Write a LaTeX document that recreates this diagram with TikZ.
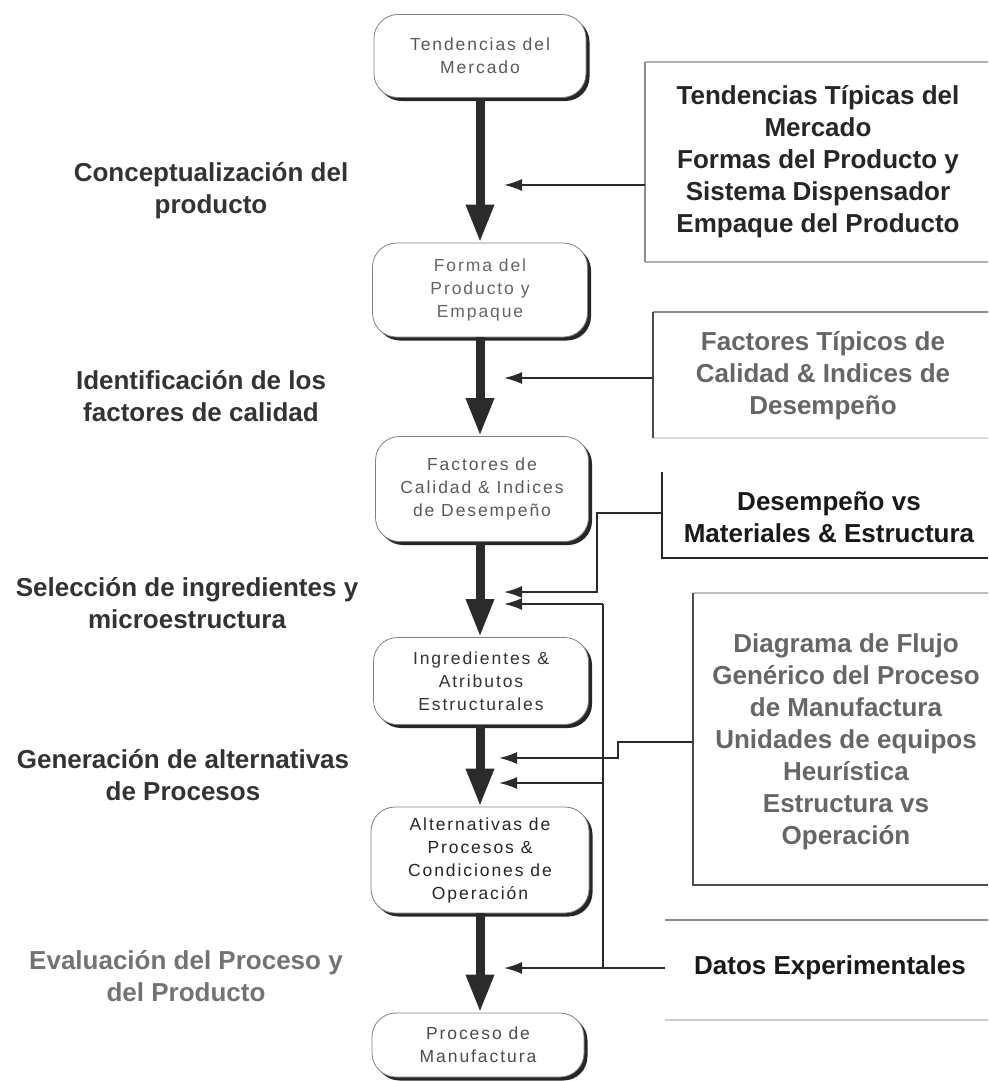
\documentclass[tikz,border=0pt]{standalone}
\usepackage{fontspec}
\setmainfont{Liberation Sans}
\newfontfamily\boxfont[LetterSpace=11]{Liberation Sans}
\usetikzlibrary{arrows.meta,shadows}

\definecolor{ink}{HTML}{2B2B2B}

\begin{document}
\begin{tikzpicture}[x=1pt,y=-1pt,
  flowbox/.style={rectangle, rounded corners=24pt, draw=black!50, line width=0.8pt,
    fill=white, align=center, inner sep=0pt,
    font=\boxfont\fontsize{17.5}{23}\selectfont,
    drop shadow={shadow xshift=3.5pt, shadow yshift=-3.5pt, fill=black!85, opacity=1}},
  stagelabel/.style={align=center, font=\bfseries\fontsize{26}{32}\selectfont, text=black!80},
  paneltext/.style={align=center, font=\bfseries\fontsize{26}{32}\selectfont},
  mainflow/.style={draw=ink, line width=9pt, -{Triangle[length=38pt,width=26pt]}},
  feed/.style={draw=ink, line width=1.8pt, -{Latex[length=18pt,width=12pt]}},
  feedline/.style={draw=ink, line width=1.8pt},
  edgedark/.style={draw=black!70, line width=2pt},
  edgelight/.style={draw=black!30, line width=2pt},
  edgemid/.style={draw=black!45, line width=2pt}]

\useasboundingbox (0,0) rectangle (988,1081);

% ---------- main flow ----------
\node[flowbox, text=black!65, minimum width=212pt, minimum height=83pt] (b1) at (480,56)
  {Tendencias del\\Mercado};
\node[flowbox, text=black!60, minimum width=215pt, minimum height=94pt] (b2) at (480,290)
  {Forma del\\Producto y\\Empaque};
\node[flowbox, text=black!65, minimum width=213pt, minimum height=105pt] (b3) at (482,489)
  {Factores de\\Calidad \& Indices\\de Desempeño};
\node[flowbox, text=black!80, minimum width=215pt, minimum height=87pt] (b4) at (481,681)
  {Ingredientes \&\\Atributos\\Estructurales};
\node[flowbox, text=black!85, minimum width=218pt, minimum height=106pt] (b5) at (480,860)
  {Alternativas de\\Procesos \&\\Condiciones de\\Operación};
\node[flowbox, text=black!70, minimum width=212pt, minimum height=64pt] (b6) at (478,1045)
  {Proceso de\\Manufactura};

\draw[mainflow] (b1.south -| 480,0) -- (b2.north -| 480,0);
\draw[mainflow] (b2.south -| 480,0) -- (b3.north -| 480,0);
\draw[mainflow] (b3.south -| 480,0) -- (b4.north -| 480,0);
\draw[mainflow] (b4.south -| 480,0) -- (b5.north -| 480,0);
\draw[mainflow] (b5.south -| 480,0) -- (b6.north -| 480,0);

% ---------- stage labels ----------
\node[stagelabel] (s1) at (211,191) {Conceptualización del\\producto};
\node[stagelabel] (s2) at (201,396) {Identificación de los\\factores de calidad};
\node[stagelabel] (s3) at (187,603) {Selección de ingredientes y\\microestructura};
\node[stagelabel] (s4) at (183,775) {Generación de alternativas\\de Procesos};
\node[stagelabel, text=black!55] (s5) at (186,976) {Evaluación del Proceso y\\del Producto};

% ---------- information panels ----------
% panel A
\draw[edgelight] (988,62) -- (645,62);
\draw[edgelight] (645,262) -- (988,262);
\draw[edgemid] (645,62) -- (645,262);
\node[paneltext, text=black!85] (pA) at (818,162)
  {Tendencias Típicas del\\Mercado\\Formas del Producto y\\Sistema Dispensador\\Empaque del Producto};
% panel B
\draw[edgemid] (988,312) -- (653,312);
\draw[draw=black!15, line width=2pt] (653,438) -- (988,438);
\draw[edgedark] (653,312) -- (653,438);
\node[paneltext, text=black!60] (pB) at (823,376)
  {Factores Típicos de\\Calidad \& Indices de\\Desempeño};
% panel C
\draw[draw=black!85, line width=2pt] (662,472) -- (662,558) -- (988,558);
\node[paneltext, text=black!90] (pC) at (829,517)
  {Desempeño vs\\Materiales \& Estructura};
% panel D
\draw[draw=black!25, line width=2pt] (988,593) -- (693,593);
\draw[edgedark] (693,593) -- (693,885) -- (988,885);
\node[paneltext, text=black!60] (pD) at (846,742)
  {Diagrama de Flujo\\Genérico del Proceso\\de Manufactura\\Unidades de equipos\\Heurística\\Estructura vs\\Operación};
% panel E
\draw[edgemid] (665,920) -- (988,920);
\draw[draw=black!20, line width=2pt] (665,1020) -- (988,1020);
\node[paneltext, text=black!90] (pE) at (830,968) {Datos Experimentales};

% ---------- feeding connectors ----------
\coordinate (Aw) at (645,185);
\coordinate (Bw) at (653,378);
\coordinate (Cw) at (662,513);
\coordinate (Dw) at (693,742);
\coordinate (Ew) at (665,968);

\coordinate (tA) at (504,185);
\coordinate (tB) at (504,378);
\coordinate (tC1) at (504,592);
\coordinate (tC2) at (504,604);
\coordinate (tD1) at (499,758);
\coordinate (tD2) at (499,783);
\coordinate (tE) at (504,968);

\coordinate (jC) at (597,592);
\coordinate (jD) at (618,758);
\coordinate (jE) at (603,968);

\draw[feed] (Aw) -- (tA);
\draw[feed] (Bw) -- (tB);
\draw[feed] (Cw) -| (jC) -- (tC1);
\draw[feed] (Dw) -| (jD) -- (tD1);
\draw[feed] (Ew) -- (tE);
\draw[feedline] (jE) -- (jE |- tC2);
\draw[feed] (jE |- tC2) -- (tC2);
\draw[feed] (jE |- tD2) -- (tD2);

\end{tikzpicture}
\end{document}
